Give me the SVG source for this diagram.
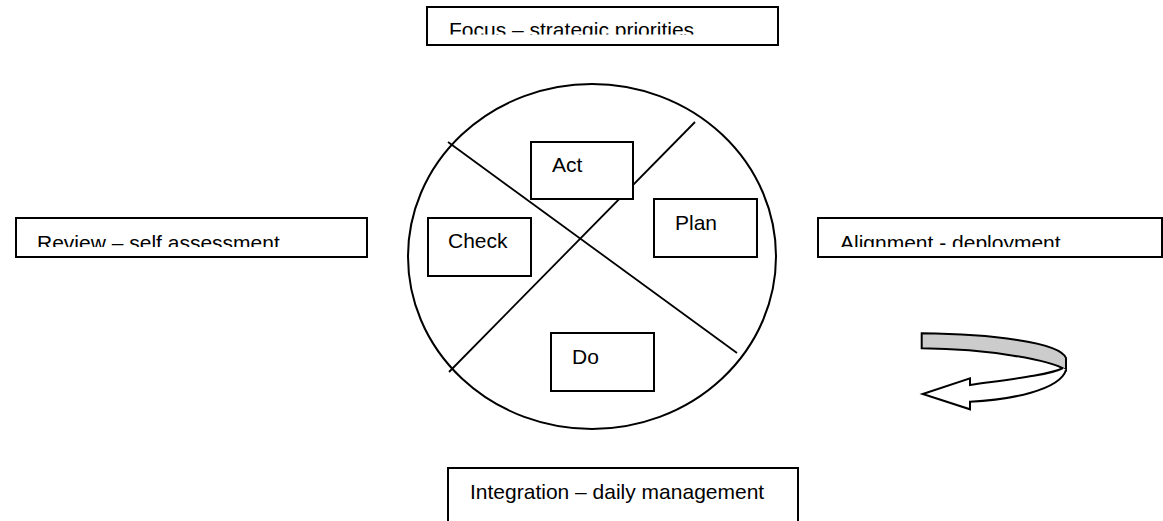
<svg xmlns="http://www.w3.org/2000/svg" width="1163" height="521" viewBox="0 0 1163 521">
  <style>
    .box { fill: #ffffff; stroke: #000000; stroke-width: 2; }
    .lbl { font-family: "Liberation Sans", Arial, sans-serif; font-size: 21px; fill: #000000; }
    .ln { stroke: #000000; stroke-width: 1.8; fill: none; }
  </style>
  <defs>
    <clipPath id="clipFocus"><rect x="427" y="7" width="351" height="27.5"/></clipPath>
    <clipPath id="clipReview"><rect x="16" y="218" width="351" height="29"/></clipPath>
    <clipPath id="clipAlign"><rect x="818" y="218" width="344" height="29"/></clipPath>
  </defs>
  <rect width="1163" height="521" fill="#ffffff"/>

  <g id="cycle-circle">
    <ellipse cx="592" cy="256.5" rx="184" ry="172.5" fill="#ffffff" stroke="#000000" stroke-width="2"/>
  </g>

  <g id="connectors">
    <line class="ln" x1="448" y1="142" x2="737" y2="353"/>
    <line class="ln" x1="449" y1="372" x2="695" y2="122"/>
    <g id="cycle-arrow" stroke="#000000" stroke-width="2" stroke-linejoin="miter">
      <path d="M 921.7,333.3 C 990,334 1060,342 1066,358 L 1066,370 C 1050,360 990,349 921.7,348.3 Z" fill="#cccccc"/>
      <path d="M 1066,370 C 1060,390 1010,400 970,401.7 L 970,409.3 L 922.7,394 L 970,378.3 L 970,385 C 1005,380 1050,375 1063,368" fill="#ffffff"/>
    </g>
  </g>

  <g id="focus">
    <rect class="box" x="427" y="7" width="351" height="38"/>
    <text class="lbl" x="449" y="37" clip-path="url(#clipFocus)">Focus – strategic priorities</text>
  </g>
  <g id="review">
    <rect class="box" x="16" y="218" width="351" height="39"/>
    <text class="lbl" x="37" y="250" clip-path="url(#clipReview)">Review – self assessment</text>
  </g>
  <g id="alignment">
    <rect class="box" x="818" y="218" width="344" height="39"/>
    <text class="lbl" x="840" y="250" clip-path="url(#clipAlign)">Alignment - deployment</text>
  </g>
  <g id="integration">
    <rect class="box" x="448" y="468" width="350" height="70"/>
    <text class="lbl" x="470" y="499">Integration – daily management</text>
  </g>

  <g id="act">
    <rect class="box" x="531" y="142" width="102" height="57"/>
    <text class="lbl" x="552" y="172">Act</text>
  </g>
  <g id="plan">
    <rect class="box" x="654" y="199" width="103" height="58"/>
    <text class="lbl" x="675" y="230">Plan</text>
  </g>
  <g id="check">
    <rect class="box" x="428" y="218" width="103" height="58"/>
    <text class="lbl" x="448" y="248">Check</text>
  </g>
  <g id="do">
    <rect class="box" x="551" y="333" width="103" height="58"/>
    <text class="lbl" x="572" y="364">Do</text>
  </g>
</svg>
